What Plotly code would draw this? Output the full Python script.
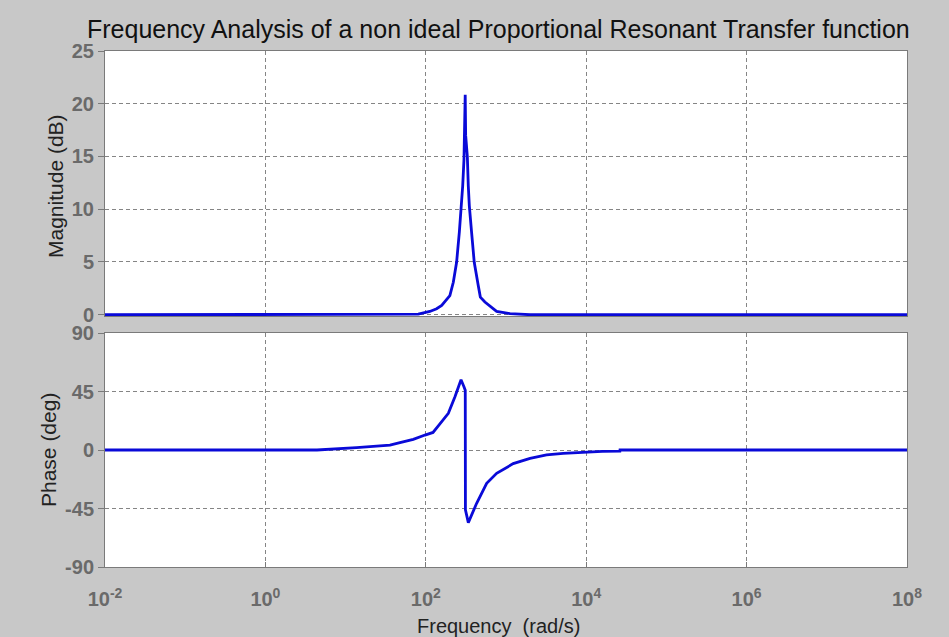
import plotly.graph_objects as go

# Bode data of the non-ideal PR controller
mag_freq = [0.01, 63.1, 80.5, 112.2, 136.5, 157.8, 199.5, 220.3, 242.1, 261.8,
            279.9, 288.4, 299.2, 304.1, 310.0, 314.1, 329.6, 338.8, 349.1, 372.4,
            401.8, 450.8, 478.6, 545.8, 691.8, 763.8, 1122.0, 1995.0, 1e8]
mag_db = [0.0, 0.0, 0.05, 0.31, 0.57, 0.88, 1.82, 3.08, 4.97, 7.8,
          10.3, 12.2, 14.7, 17.3, 20.85, 17.0, 15.0, 12.2, 10.3, 7.8,
          4.97, 2.77, 1.67, 1.2, 0.57, 0.31, 0.1, 0.0, 0.0]

phase_freq = [0.01, 4.4, 13.7, 26.9, 35.7, 47.6, 69.8, 97.7, 123.0, 143.2,
              191.0, 231.0, 275.0, 299.0, 310.5, 312.0, 339.0, 430.5, 574.0,
              764.0, 1230.0, 1995.0, 3206.0, 5164.0, 8318.0, 15850.0, 26300.0,
              26400.0, 1e8]
phase_deg = [0.0, 0.0, 1.8, 3.1, 3.8, 5.6, 8.2, 11.5, 13.5, 18.5,
             28.2, 41.0, 54.0, 48.7, 46.0, -46.0, -55.9, -41.0, -25.6,
             -17.9, -10.5, -6.4, -3.8, -2.6, -1.8, -1.0, -0.8,
             0.0, 0.0]

x_tickvals = [1e-2, 1e0, 1e2, 1e4, 1e6, 1e8]
x_ticktext = ["10<sup>-2</sup>", "10<sup>0</sup>", "10<sup>2</sup>",
              "10<sup>4</sup>", "10<sup>6</sup>", "10<sup>8</sup>"]
mag_ticks = [0, 5, 10, 15, 20, 25]
phase_ticks = [-90, -45, 0, 45, 90]
phase_ticktext = ["-90", "-45", "0", "45", "90"]

W, H = 949, 637
FIG_BG = "#c8c8c8"
GRID = "#858585"
BOX = "#7a7a7a"
FAMILY = "Liberation Sans, Arial"
TICK_FONT = dict(family=FAMILY, size=20, color="#6a6a6a", weight="bold")
LINE = dict(color="#0a0ad8", width=2.8)

fig = go.Figure()
fig.add_trace(go.Scatter(x=mag_freq, y=mag_db, mode="lines", line=LINE,
                         xaxis="x", yaxis="y", showlegend=False))
fig.add_trace(go.Scatter(x=phase_freq, y=phase_deg, mode="lines", line=LINE,
                         xaxis="x2", yaxis="y2", showlegend=False))

x_dom = [105 / W, 907 / W]
common_x = dict(type="log", range=[-2, 8], domain=x_dom, showgrid=True,
                gridcolor=GRID, griddash="4px,3px", gridwidth=1,
                showline=True, linecolor=BOX, linewidth=1, mirror=True,
                tickvals=x_tickvals, zeroline=False, automargin=False)
common_y = dict(showgrid=True, gridcolor=GRID, griddash="4px,3px", gridwidth=1,
                showline=True, linecolor=BOX, linewidth=1, mirror=True,
                ticks="outside", ticklen=6, tickcolor=BOX, tickfont=TICK_FONT,
                zeroline=False, automargin=False, ticklabelstandoff=0)

fig.update_layout(
    width=W, height=H,
    margin=dict(l=0, r=0, t=0, b=0, autoexpand=False),
    paper_bgcolor=FIG_BG,
    plot_bgcolor="white",
    xaxis=dict(common_x, anchor="y", showticklabels=False, ticks=""),
    yaxis=dict(common_y, domain=[1 - 316 / H, 1 - 51 / H], range=[-0.12, 25],
               tickvals=mag_ticks, anchor="x"),
    xaxis2=dict(common_x, anchor="y2", ticktext=x_ticktext, ticks="inside",
                ticklen=5, tickcolor=BOX, tickfont=TICK_FONT, matches="x",
                ticklabelstandoff=14),
    yaxis2=dict(common_y, domain=[1 - 567 / H, 1 - 333 / H], range=[-90, 90],
                tickvals=phase_ticks, ticktext=phase_ticktext, anchor="x2"),
    annotations=[
        dict(text="Frequency Analysis of a non ideal Proportional Resonant Transfer function",
             x=498 / W, y=1 - 29 / H, xref="paper", yref="paper",
             xanchor="center", yanchor="middle", showarrow=False,
             font=dict(family=FAMILY, size=25, color="#111111")),
        dict(text="Frequency  (rad/s)", x=498 / W, y=1 - 626 / H,
             xref="paper", yref="paper", xanchor="center", yanchor="middle",
             showarrow=False, font=dict(family=FAMILY, size=20, color="#222222")),
        dict(text="Magnitude (dB)", x=55 / W, y=1 - 186 / H, textangle=-90,
             xref="paper", yref="paper", xanchor="center", yanchor="middle",
             showarrow=False, font=dict(family=FAMILY, size=21, color="#222222")),
        dict(text="Phase (deg)", x=48 / W, y=1 - 450 / H, textangle=-90,
             xref="paper", yref="paper", xanchor="center", yanchor="middle",
             showarrow=False, font=dict(family=FAMILY, size=21, color="#222222")),
    ],
)

fig.write_html("out.html")
